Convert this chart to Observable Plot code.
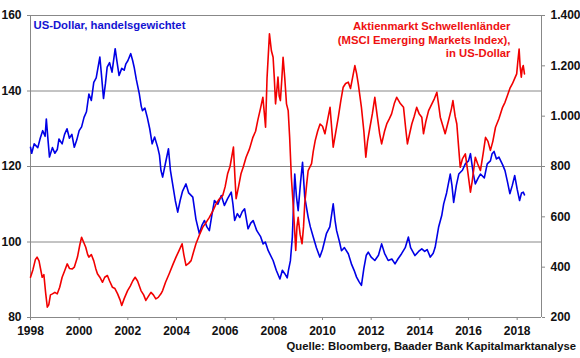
<!DOCTYPE html>
<html><head><meta charset="utf-8">
<script src="https://cdn.jsdelivr.net/npm/d3@7"></script>
<script src="https://cdn.jsdelivr.net/npm/@observablehq/plot@0.6"></script>
<style>
body{margin:0;background:#fff;font-family:"Liberation Sans",Arial,sans-serif;}
#chart{width:580px;height:338px;}
#caption{width:576px;text-align:right;font-weight:bold;font-size:11.3px;height:20px;line-height:16px;color:#111;}
</style></head><body>
<div id="chart"></div>
<div id="caption">Quelle: Bloomberg, Baader Bank Kapitalmarktanalyse</div>
<script>
const usdTitle = "US-Dollar, handelsgewichtet";
const emTitle = "Aktienmarkt Schwellenländer\n(MSCI Emerging Markets Index),\nin US-Dollar";
const xTicks = [1998,2000,2002,2004,2006,2008,2010,2012,2014,2016,2018];
const leftTicks = [80,100,120,140,160];
const rightTicks = [200,400,600,800,1000,1200,1400];
const gridValues = [100,120,140,160];

const usdYears = [1998.00,1998.05,1998.15,1998.3,1998.4,1998.5,1998.6,1998.65,1998.72,1998.78,1998.9,1999.0,1999.1,1999.17,1999.3,1999.4,1999.5,1999.6,1999.7,1999.8,1999.9,2000.0,2000.1,2000.2,2000.3,2000.4,2000.5,2000.6,2000.7,2000.85,2000.92,2001.0,2001.08,2001.15,2001.25,2001.35,2001.48,2001.55,2001.64,2001.75,2001.85,2001.92,2002.0,2002.12,2002.2,2002.26,2002.35,2002.47,2002.55,2002.6,2002.7,2002.8,2002.9,2003.0,2003.1,2003.23,2003.3,2003.36,2003.43,2003.55,2003.67,2003.75,2003.84,2003.95,2004.05,2004.15,2004.25,2004.39,2004.5,2004.67,2004.8,2004.94,2005.05,2005.15,2005.25,2005.35,2005.45,2005.56,2005.7,2005.84,2005.97,2006.1,2006.25,2006.32,2006.39,2006.5,2006.6,2006.7,2006.8,2006.94,2007.05,2007.15,2007.3,2007.45,2007.56,2007.65,2007.77,2007.97,2008.1,2008.25,2008.35,2008.45,2008.55,2008.6,2008.68,2008.76,2008.86,2008.93,2009.0,2009.1,2009.18,2009.27,2009.41,2009.5,2009.62,2009.75,2009.89,2010.0,2010.16,2010.3,2010.44,2010.52,2010.58,2010.7,2010.78,2010.9,2011.06,2011.2,2011.3,2011.4,2011.5,2011.6,2011.7,2011.8,2011.88,2012.0,2012.15,2012.3,2012.43,2012.55,2012.7,2012.85,2012.98,2013.1,2013.25,2013.4,2013.53,2013.62,2013.8,2013.95,2014.08,2014.2,2014.3,2014.43,2014.55,2014.63,2014.77,2014.9,2014.98,2015.1,2015.25,2015.32,2015.39,2015.5,2015.6,2015.75,2015.87,2016.0,2016.08,2016.2,2016.28,2016.4,2016.49,2016.65,2016.77,2016.9,2016.97,2017.05,2017.15,2017.25,2017.4,2017.5,2017.6,2017.7,2017.8,2017.9,2018.0,2018.1,2018.18,2018.25,2018.3];
const usdValues = [125.1,123.5,126,125,127.5,129.5,128,132.6,127,122.5,125,123.5,124.5,127.3,126,128.5,130,127.5,128.5,125.1,127,129.5,130.5,133,134.5,139.2,137.5,142.3,143.5,149,144,138,142,146.3,147.5,145,151.2,148,144.1,146,145.5,147.2,148,149.9,148,146.3,143,139.3,136,134.8,135.5,133,130,126,127.8,125,123,119,117.2,121,124.7,119,115.4,111,107.9,111,113.5,115.4,113,111.9,106,102.2,104.5,105.7,104,103,107,111,110,112.3,109.7,111.5,113.2,110,105.7,107.5,106.5,108,108.8,103.5,105,105.7,103,101.5,99.5,100,97.7,95.1,92.5,90.2,92.5,91.6,90.5,92.5,95,101.3,118,112,108.3,116,121.1,111.9,106.6,104,101.3,98.5,96,98,102.2,104,110.1,105.5,103,100,97.7,98.5,96.9,94,92.5,90.7,89.5,88.5,93,96.5,97.3,96,95.1,96.5,99.5,97,95.1,95.5,94.2,95.5,96.9,98.5,101.3,98.5,96.4,97.5,98.2,97.5,98,96,97,98.6,103.9,107,110.1,113,118,115,110.5,115,118,119,120.7,121.5,123.4,118,115.4,117,118,117,120.7,121.5,123.4,124,122,122.5,120.5,118.9,116,112.8,115,117.6,114,111,113,113.2,112.5];

const emYears = [1998.0,1998.1,1998.2,1998.27,1998.35,1998.48,1998.55,1998.62,1998.69,1998.75,1998.82,1998.9,1999.0,1999.1,1999.2,1999.3,1999.4,1999.51,1999.6,1999.72,1999.8,1999.93,2000.03,2000.1,2000.18,2000.27,2000.35,2000.4,2000.5,2000.6,2000.68,2000.75,2000.85,2000.96,2001.05,2001.16,2001.25,2001.37,2001.47,2001.58,2001.68,2001.75,2001.85,2001.99,2002.1,2002.2,2002.3,2002.4,2002.54,2002.65,2002.74,2002.85,2002.95,2003.05,2003.15,2003.25,2003.36,2003.43,2003.55,2003.7,2003.85,2003.98,2004.1,2004.23,2004.3,2004.39,2004.5,2004.6,2004.7,2004.8,2004.95,2005.08,2005.2,2005.35,2005.5,2005.63,2005.75,2005.9,2006.0,2006.1,2006.2,2006.34,2006.4,2006.45,2006.55,2006.65,2006.75,2006.86,2007.0,2007.14,2007.25,2007.34,2007.45,2007.55,2007.62,2007.66,2007.72,2007.82,2007.9,2007.97,2008.02,2008.07,2008.12,2008.17,2008.22,2008.27,2008.33,2008.38,2008.45,2008.52,2008.59,2008.65,2008.72,2008.8,2008.87,2008.9,2008.95,2009.0,2009.08,2009.16,2009.22,2009.27,2009.35,2009.41,2009.55,2009.62,2009.7,2009.8,2009.9,2010.0,2010.1,2010.2,2010.31,2010.38,2010.44,2010.55,2010.65,2010.75,2010.85,2010.95,2011.06,2011.15,2011.25,2011.33,2011.4,2011.47,2011.6,2011.7,2011.78,2011.85,2011.95,2012.05,2012.15,2012.25,2012.35,2012.43,2012.55,2012.64,2012.75,2012.84,2012.95,2013.05,2013.2,2013.33,2013.42,2013.49,2013.58,2013.67,2013.77,2013.87,2013.97,2014.08,2014.15,2014.25,2014.36,2014.5,2014.6,2014.7,2014.78,2014.84,2014.95,2015.04,2015.18,2015.3,2015.36,2015.45,2015.52,2015.6,2015.66,2015.75,2015.87,2015.97,2016.08,2016.15,2016.28,2016.38,2016.49,2016.6,2016.7,2016.8,2016.9,2017.0,2017.11,2017.25,2017.4,2017.5,2017.6,2017.7,2017.8,2017.9,2017.98,2018.03,2018.08,2018.12,2018.17,2018.21,2018.25,2018.3];
const emValues = [360,390,430,440,425,360,370,300,241,250,290,294,300,294,320,360,385,413,395,393,400,440,490,519,500,479,450,440,450,425,395,374,360,340,360,367,345,320,315,294,270,248,275,307,325,345,360,345,307,290,268,285,300,290,274,280,294,307,340,374,410,440,465,493,450,407,415,426,460,493,530,559,575,598,625,652,670,685,720,771,800,877,760,672,720,771,800,837,870,916,940,983,1030,1075,1000,956,1150,1327,1260,1234,1150,1049,1100,1155,1080,1062,1150,1234,1150,1049,1022,916,757,640,520,466,560,598,530,493,560,652,730,784,811,860,903,940,969,960,930,980,1035,950,877,940,996,1060,1115,1130,1135,1110,1160,1201,1170,1128,1035,940,837,900,956,1010,1075,1000,930,890,940,969,990,1009,1050,1075,1050,1035,950,890,930,969,1000,1035,1010,996,930,980,1022,1050,1070,1095,1040,996,960,930,983,1030,1062,1000,969,870,797,830,850,780,698,740,837,810,784,850,916,900,864,900,956,990,1035,1055,1082,1110,1128,1150,1168,1220,1267,1200,1155,1190,1201,1168];

// map right-axis values onto the left scale (80..160 <-> 200..1400)
const toLeft = r => 80 + (r - 200) / 15;
const fromLeft = v => 200 + (v - 80) * 15;
const de = d3.formatLocale({decimal: ",", thousands: ".", grouping: [3], currency: ["", "€"]}).format(",d");

const usd = usdYears.map((x, i) => ({x, y: usdValues[i]}));
const em = emYears.map((x, i) => ({x, y: toLeft(emValues[i])}));

const chart = Plot.plot({
  width: 580, height: 338,
  marginLeft: 30, marginRight: 39, marginTop: 15, marginBottom: 21,
  style: {fontFamily: "'Liberation Sans', Arial, sans-serif", fontSize: "12px", fontWeight: "bold", color: "#111", background: "#fff", overflow: "visible"},
  x: {domain: [1998, 2019]},
  y: {domain: [80, 160]},
  marks: [
    Plot.ruleY(gridValues, {stroke: "#888", strokeWidth: 1}),
    Plot.ruleY([80], {stroke: "#888", strokeWidth: 1}),
    Plot.ruleX([1998, 2019], {stroke: "#888", strokeWidth: 1}),
    Plot.axisX({ticks: xTicks, tickFormat: d => String(d), tickSize: 3, tickPadding: 6, stroke: "#888", fill: "#111", label: null, fontSize: 12}),
    Plot.axisY({ticks: leftTicks, anchor: "left", tickFormat: d => String(d), tickSize: 3, tickPadding: 6, stroke: "#888", fill: "#111", label: null, fontSize: 12}),
    Plot.axisY({ticks: rightTicks.map(toLeft), anchor: "right", tickFormat: v => de(Math.round(fromLeft(v))), tickSize: 3, tickPadding: 6, stroke: "#888", fill: "#111", label: null, fontSize: 12}),
    Plot.line(usd, {x: "x", y: "y", stroke: "#0000e6", strokeWidth: 1.6}),
    Plot.line(em, {x: "x", y: "y", stroke: "#f20000", strokeWidth: 1.6}),
    Plot.text([usdTitle], {text: d => d, frameAnchor: "top-left", textAnchor: "start", lineAnchor: "top", dx: 3, dy: 5, fill: "#1414d2", fontSize: 11.3, fontWeight: "bold"}),
    Plot.text([emTitle], {text: d => d, frameAnchor: "top-right", textAnchor: "end", lineAnchor: "top", dx: -31, dy: 5, lineHeight: 1.2, fill: "#ee1111", fontSize: 11.3, fontWeight: "bold"})
  ]
});
document.getElementById("chart").appendChild(chart);
</script></body></html>
